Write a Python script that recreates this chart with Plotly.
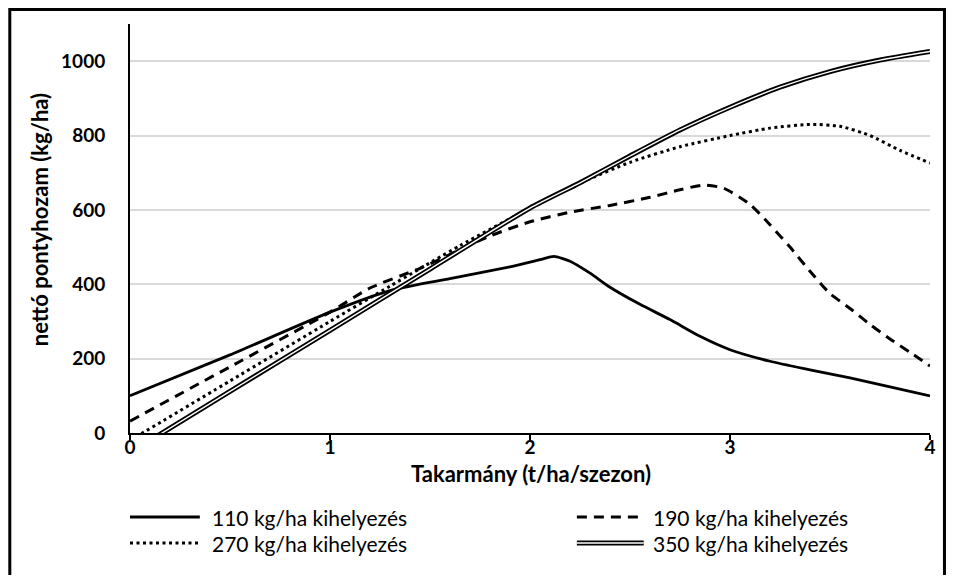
import plotly.graph_objects as go

# feed (t/ha/season) vs net carp yield (kg/ha), four stocking densities
feed_110 = [0, 0.5, 1.0, 1.3, 1.6, 1.9, 2.05, 2.12, 2.2, 2.3, 2.4, 2.55, 2.7, 2.85, 3.0, 3.2, 3.4, 3.6, 3.8, 4.0]
yield_110 = [100, 210, 325, 383, 415, 447, 466, 475, 462, 430, 392, 346, 305, 260, 224, 193, 170, 148, 124, 100]

feed_190 = [0, 0.5, 1.0, 1.2, 1.45, 1.8, 2.0, 2.2, 2.4, 2.6, 2.75, 2.87, 2.97, 3.1, 3.2, 3.3, 3.4, 3.5, 3.6, 3.7, 3.8, 3.9, 4.0]
yield_190 = [32, 178, 325, 390, 443, 530, 568, 594, 612, 634, 654, 667, 658, 615, 560, 500, 435, 375, 335, 292, 253, 217, 180]

feed_270 = [0, 0.5, 1.0, 1.3, 1.65, 2.0, 2.25, 2.5, 2.75, 3.0, 3.2, 3.4, 3.55, 3.7, 3.85, 4.0]
yield_270 = [-20, 140, 300, 395, 504, 605, 672, 728, 770, 800, 820, 830, 825, 800, 760, 726]

feed_350 = [0, 0.5, 1.0, 1.5, 2.0, 2.25, 2.5, 2.75, 3.0, 3.25, 3.5, 3.75, 4.0]
yield_350 = [-53, 112, 276, 441, 605, 673, 745, 815, 876, 930, 972, 1003, 1026]

labels = [
    "110 kg/ha kihelyezés",
    "190 kg/ha kihelyezés",
    "270 kg/ha kihelyezés",
    "350 kg/ha kihelyezés",
]

x_ticks = [0, 1, 2, 3, 4]
y_ticks = [0, 200, 400, 600, 800, 1000]

# the page body has an 8px margin, so the figure is kept 16px smaller
OFF = 8
W, H = 940, 567
L, R, T, B = 122, 16, 16, 142
FONT = "Lato"


def px(x):
    # screen pixel column -> paper x
    return (x - OFF - L) / (W - L - R)


def py(y):
    # screen pixel row (from top) -> paper y
    return (H - B - (y - OFF)) / (H - T - B)


fig = go.Figure()

fig.add_trace(go.Scatter(x=feed_110, y=yield_110, mode="lines",
                         line=dict(color="black", width=2.8, shape="spline", smoothing=0.6)))
fig.add_trace(go.Scatter(x=feed_190, y=yield_190, mode="lines",
                         line=dict(color="black", width=3, dash="10px,7px", shape="spline", smoothing=0.6)))
fig.add_trace(go.Scatter(x=feed_270, y=yield_270, mode="lines",
                         line=dict(color="black", width=3, dash="3px,3.5px", shape="spline", smoothing=0.6)))
# double line: thick black with a thin white core
fig.add_trace(go.Scatter(x=feed_350, y=yield_350, mode="lines",
                         line=dict(color="black", width=5, shape="spline", smoothing=0.6)))
fig.add_trace(go.Scatter(x=feed_350, y=yield_350, mode="lines",
                         line=dict(color="white", width=1.4, shape="spline", smoothing=0.6)))

fig.update_traces(showlegend=False, hoverinfo="skip")

# hand-made legend (two columns, long samples like the original)
rows = [py(517), py(517), py(543), py(543)]
cols = [(130, 200, 210), (578, 645, 652), (130, 200, 210), (578, 645, 652)]
styles = [
    [dict(color="black", width=2.8)],
    [dict(color="black", width=3, dash="10px,7px")],
    [dict(color="black", width=3, dash="3px,3.5px")],
    [dict(color="black", width=5), dict(color="white", width=1.4)],
]
shapes = []
annotations = []
for lab, yy, (x0, x1, xt), st in zip(labels, rows, cols, styles):
    for ln in st:
        shapes.append(dict(type="line", xref="paper", yref="paper",
                           x0=px(x0), x1=px(x1), y0=yy, y1=yy, line=ln))
    annotations.append(dict(text=lab, xref="paper", yref="paper", x=px(xt), y=yy,
                            xanchor="left", yanchor="middle", showarrow=False,
                            font=dict(family=FONT, size=21, color="black")))

# outer frame
shapes.append(dict(type="rect", xref="paper", yref="paper",
                   x0=px(9.5), x1=px(946.5), y0=py(600), y1=py(9.5),
                   line=dict(color="black", width=3)))

annotations.append(dict(text="<b>Takarmány (t/ha/szezon)</b>", xref="paper", yref="paper",
                        x=px(532), y=py(473), xanchor="center", yanchor="middle", showarrow=False,
                        font=dict(family=FONT, size=22, color="black")))
annotations.append(dict(text="<b>nettó pontyhozam (kg/ha)</b>", xref="paper", yref="paper",
                        x=px(39), y=py(220), xanchor="center", yanchor="middle", showarrow=False,
                        textangle=-90, font=dict(family=FONT, size=22, color="black")))

fig.update_layout(
    width=W,
    height=H,
    autosize=False,
    margin=dict(l=L, r=R, t=T, b=B, pad=0),
    paper_bgcolor="white",
    plot_bgcolor="white",
    showlegend=False,
    shapes=shapes,
    annotations=annotations,
    xaxis=dict(
        range=[0, 4],
        tickvals=x_ticks,
        ticks="outside",
        ticklen=5,
        tickwidth=2,
        tickcolor="black",
        showline=True,
        linecolor="black",
        linewidth=2,
        showgrid=False,
        zeroline=False,
        ticklabelstandoff=-9,
        tickfont=dict(family=FONT, size=19, color="black", weight="bold"),
    ),
    yaxis=dict(
        range=[0, 1100],
        tickvals=y_ticks,
        showline=True,
        linecolor="black",
        linewidth=2,
        showgrid=True,
        gridcolor="#d9d9d9",
        gridwidth=1.5,
        zeroline=False,
        ticklabelstandoff=19,
        tickfont=dict(family=FONT, size=19, color="black", weight="bold"),
    ),
)

fig.write_html("out.html")
